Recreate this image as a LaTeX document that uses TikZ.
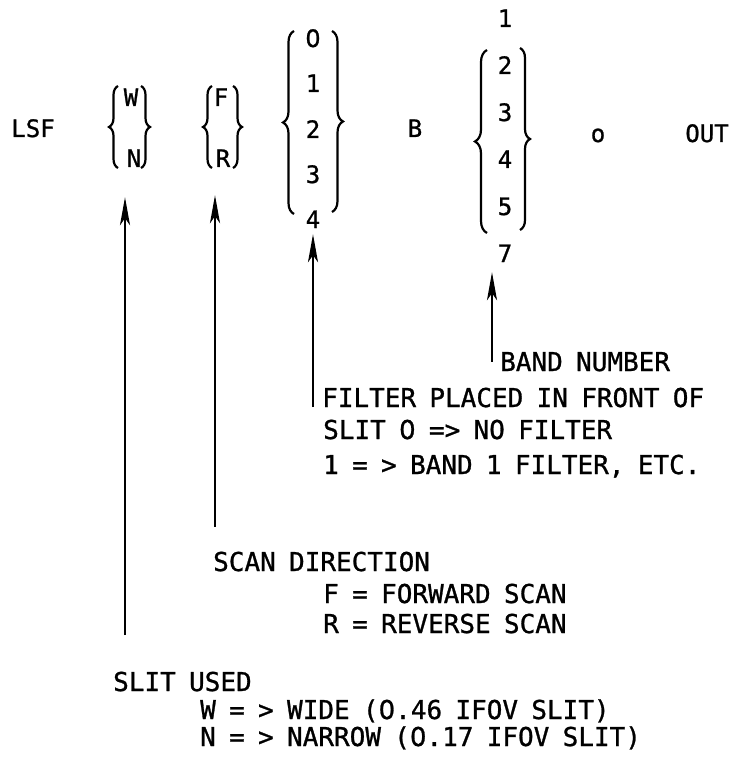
\documentclass[tikz,border=0pt]{standalone}
\usepackage{fontspec}
\newfontfamily\mono{DejaVu Sans Mono}[WordSpace=0.85, FakeBold=1]
\newfontfamily\dvs{DejaVu Sans}[FakeBold=1]
\usetikzlibrary{arrows.meta,decorations.pathreplacing}
\newcommand\zr{{\dvs 0}}
\begin{document}
\begin{tikzpicture}[x=1pt,y=-1pt,
  top/.style={inner sep=0pt, anchor=base, font=\mono\fontsize{24}{24}\selectfont},
  txt/.style={inner sep=0pt, anchor=base west, font=\mono\fontsize{26}{26}\selectfont},
  brc/.style={line width=2.2pt, decorate, decoration={brace, amplitude=#1}},
  arr/.style={line width=2.5pt, -{Stealth[length=28pt,width=10pt,inset=7pt]}},
]
\useasboundingbox (0,0) rectangle (734,759);

% top row
\node[top] (lsf) at (33,137) {LSF};
\node[top] (w) at (131,106) {W};
\node[top] (n) at (134,167) {N};
\node[top] (f) at (221,106) {F};
\node[top] (r) at (223,167) {R};
\node[top] (d0) at (313,47) {\zr};
\node[top] (d1) at (313,92) {1};
\node[top] (d2) at (313,138) {2};
\node[top] (d3) at (313,183) {3};
\node[top] (d4) at (313,228) {4};
\node[top] (b) at (415,137) {B};
\node[top] (b1) at (505,27) {1};
\node[top] (b2) at (505,74) {2};
\node[top] (b3) at (505,121) {3};
\node[top] (b4) at (505,168) {4};
\node[top] (b5) at (505,215) {5};
\node[top] (b7) at (505,262) {7};
\node[top] (o) at (598,142) {o};
\node[top] (out) at (707,142) {OUT};

% braces
\draw[brc=9pt] (118,168) -- (118,86);
\draw[brc=9pt] (141,86) -- (141,168);
\draw[brc=9pt] (212,168) -- (212,86);
\draw[brc=9pt] (233,86) -- (233,168);
\draw[brc=11pt] (294,214) -- (294,31);
\draw[brc=11pt] (332,31) -- (332,212);
\draw[brc=12pt] (487,233) -- (487,50);
\draw[brc=10pt] (520,48) -- (520,230);

% explanation texts
\node[txt] (band) at (500,371) {BAND NUMBER};
\node[txt] (filt) at (322,407) {FILTER PLACED IN FRONT OF};
\node[txt] (slit0) at (323,439) {SLIT \zr{} => NO FILTER};
\node[txt] (band1) at (323,474) {1 = > BAND 1 FILTER, ETC.};
\node[txt] (scan) at (213,571) {SCAN DIRECTION};
\node[txt] (fwd) at (323,603) {F = FORWARD SCAN};
\node[txt] (rev) at (323,633) {R = REVERSE SCAN};
\node[txt] (slitu) at (113,691) {SLIT USED};
\node[txt] (wide) at (200,719) {W = > WIDE (\zr.46 IFOV SLIT)};
\node[txt] (narrow) at (200,746) {N = > NARROW (\zr.17 IFOV SLIT)};

% arrows
\coordinate (wnfoot) at (125,635);
\coordinate (wntip) at ([yshift=-30pt]n.south);
\draw[arr] (wnfoot) -- (wnfoot |- wntip);

\coordinate (frfoot) at ([xshift=2pt,yshift=25pt]scan.north west);
\coordinate (frtip) at ([yshift=-28pt]r.south);
\draw[arr] (frfoot) -- (frfoot |- frtip);

\coordinate (filtfoot) at ([xshift=-9pt]filt.base west);
\coordinate (filttip) at ([yshift=-6pt]d4.south);
\draw[arr] (filtfoot) -- (filtfoot |- filttip);

\coordinate (bandfoot) at ([xshift=-8pt]band.west);
\coordinate (bandtip) at ([yshift=-10pt]b7.south);
\draw[arr] (bandfoot) -- (bandfoot |- bandtip);
\end{tikzpicture}
\end{document}
